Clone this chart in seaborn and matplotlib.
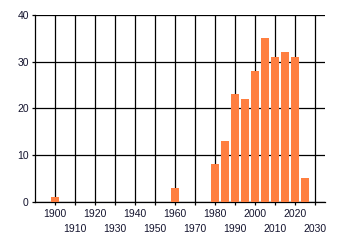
import matplotlib
matplotlib.use("Agg")
import matplotlib.pyplot as plt
import seaborn as sns
import pandas as pd

years = [1900, 1960, 1980, 1985, 1990, 1995, 2000, 2005, 2010, 2015, 2020, 2025]
counts = [1, 3, 8, 13, 23, 22, 28, 35, 31, 32, 31, 5]
xticks = list(range(1900, 2031, 10))
yticks = [0, 10, 20, 30, 40]

sns.set_style("white")
plt.rcParams['font.family'] = ['Liberation Sans', 'DejaVu Sans']

df = pd.DataFrame({"year": years, "count": counts})

fig = plt.figure(figsize=(3.4, 2.45), dpi=100)
ax = fig.add_axes([35/340, 1 - 201.7/245, 290/340, 186.7/245])

sns.barplot(data=df, x="year", y="count", native_scale=True, width=0.8,
            color="#FF7F40", saturation=1, ax=ax, zorder=3,
            linewidth=0, edgecolor="none")

ax.set_xlim(1890, 2035)
ax.set_ylim(0, 40)
ax.set_xticks(xticks)
ax.set_xticklabels([str(t) for t in xticks])
ax.set_yticks(yticks)
ax.set_yticklabels([str(t) for t in yticks])
ax.set_xlabel("")
ax.set_ylabel("")

ax.grid(True, color="black", linewidth=0.9, zorder=0)
ax.set_axisbelow(True)
for s in ["top", "right"]:
    ax.spines[s].set_visible(False)
for s in ["left", "bottom"]:
    ax.spines[s].set_visible(True)
    ax.spines[s].set_color("black")
    ax.spines[s].set_linewidth(0.9)

txtc = "#14142e"
ax.tick_params(axis="both", which="major", length=2.5, width=0.9, color="black",
               labelsize=7.5, labelcolor=txtc, direction="out", bottom=True, left=True)
ax.tick_params(axis="x", pad=2.6)
ax.tick_params(axis="y", pad=2.0)
for i, tk in enumerate(ax.xaxis.get_major_ticks()):
    if i % 2 == 1:
        tk.set_pad(2.6 + 11.0)

fig.savefig("out.png", dpi=100)
